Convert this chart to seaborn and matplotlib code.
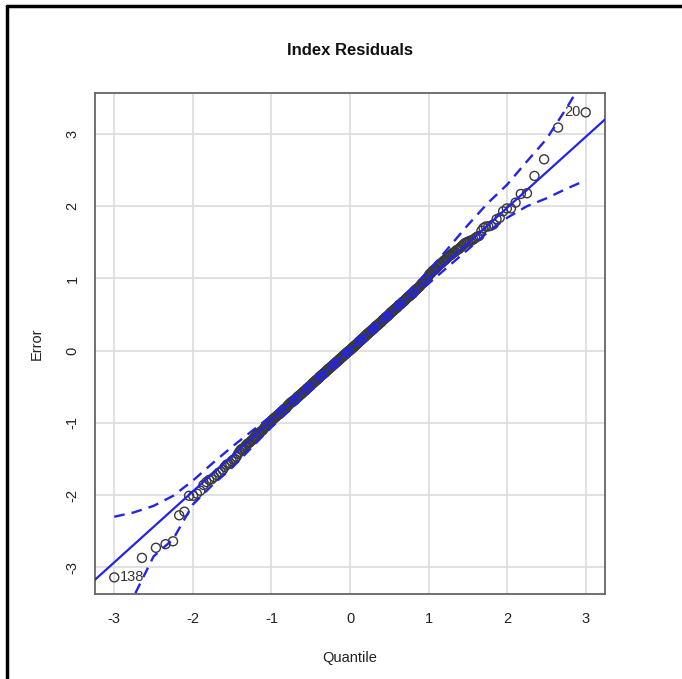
import numpy as np
import pandas as pd
import seaborn as sns
import matplotlib
matplotlib.use("Agg")
import matplotlib.pyplot as plt
from matplotlib.lines import Line2D
from statistics import NormalDist

# ---------------- data ----------------
title = "Index Residuals"
xlabel = "Quantile"
ylabel = "Error"

# sorted residuals (370 observations)
residuals_low = [
    -3.14, -2.87, -2.73, -2.68, -2.64, -2.28, -2.23, -2.01, -2.01, -1.98,
    -1.94, -1.86, -1.82, -1.79, -1.78, -1.75, -1.72, -1.69, -1.68, -1.65,
    -1.61, -1.58, -1.57, -1.56, -1.53, -1.51, -1.50, -1.47, -1.43, -1.40,
    -1.37, -1.36, -1.35, -1.33, -1.31, -1.29, -1.28, -1.27, -1.25, -1.24,
    -1.22, -1.20, -1.19, -1.17, -1.15, -1.14, -1.13, -1.12, -1.11, -1.10,
    -1.08, -1.06, -1.05, -1.04, -1.02, -1.01, -1.00, -0.99, -0.98,
    -0.96, -0.95, -0.94, -0.93, -0.92, -0.91, -0.90, -0.89, -0.88,
    -0.87, -0.86, -0.85, -0.84, -0.83, -0.82, -0.81, -0.80, -0.80, -0.79,
    -0.77, -0.76, -0.75, -0.74, -0.73, -0.72, -0.71, -0.71, -0.70, -0.69, -0.69,
    -0.68, -0.67, -0.66, -0.65, -0.64, -0.63, -0.63, -0.62, -0.61, -0.60, -0.60, -0.59,
    -0.58, -0.57, -0.56, -0.56, -0.55, -0.54, -0.53, -0.52, -0.52, -0.51, -0.50, -0.49, -0.49,
    -0.48, -0.47, -0.46, -0.45, -0.45, -0.44, -0.43, -0.42, -0.42, -0.41, -0.40, -0.40, -0.39,
    -0.38, -0.37, -0.36, -0.36, -0.35, -0.34, -0.34, -0.33, -0.32, -0.32, -0.31, -0.30, -0.30, -0.29,
    -0.28, -0.27, -0.27, -0.26, -0.25, -0.25, -0.24, -0.23, -0.23, -0.22, -0.21, -0.21, -0.20, -0.19, -0.19,
    -0.18, -0.17, -0.17, -0.16, -0.15, -0.15, -0.14, -0.13, -0.13, -0.12, -0.11, -0.11, -0.10, -0.09,
    -0.09, -0.08, -0.07, -0.07, -0.06, -0.05, -0.05, -0.04, -0.03, -0.03, -0.02, -0.01, -0.01, 0.00, 0.00,
]
residuals_high = [
    0.01, 0.02, 0.02, 0.03, 0.04, 0.04, 0.05, 0.06, 0.06, 0.07, 0.08, 0.08, 0.09, 0.10, 0.10,
    0.11, 0.12, 0.13, 0.13, 0.14, 0.15, 0.15, 0.16, 0.17, 0.17, 0.18, 0.19, 0.19, 0.20,
    0.21, 0.22, 0.22, 0.23, 0.24, 0.24, 0.25, 0.26, 0.26, 0.27, 0.28, 0.28, 0.29, 0.30, 0.30,
    0.31, 0.32, 0.33, 0.33, 0.34, 0.35, 0.35, 0.36, 0.37, 0.37, 0.38, 0.39, 0.39, 0.40,
    0.41, 0.42, 0.43, 0.43, 0.44, 0.45, 0.46, 0.46, 0.47, 0.48, 0.48, 0.49, 0.50,
    0.51, 0.52, 0.53, 0.53, 0.54, 0.55, 0.56, 0.56, 0.57, 0.58, 0.59, 0.59, 0.60,
    0.61, 0.62, 0.63, 0.64, 0.64, 0.65, 0.66, 0.67, 0.68, 0.68, 0.69, 0.70,
    0.71, 0.72, 0.73, 0.74, 0.75, 0.75, 0.76, 0.77, 0.78, 0.79, 0.79,
    0.81, 0.82, 0.83, 0.84, 0.85, 0.86, 0.87, 0.88, 0.89, 0.90,
    0.92, 0.93, 0.94, 0.95, 0.96, 0.98, 0.99, 1.00, 1.02,
    1.04, 1.06, 1.07, 1.08, 1.10, 1.11, 1.12, 1.13, 1.14,
    1.16, 1.17, 1.19, 1.20, 1.21, 1.22, 1.24, 1.25, 1.26, 1.28,
    1.29, 1.31, 1.32, 1.33, 1.35, 1.36, 1.37, 1.39, 1.40, 1.41,
    1.43, 1.45, 1.47, 1.49, 1.50, 1.51, 1.52, 1.53, 1.54, 1.56,
    1.58, 1.59, 1.66, 1.70, 1.72, 1.72, 1.73, 1.75, 1.82, 1.84,
    1.93, 1.97, 1.97, 2.05, 2.17, 2.18, 2.42, 2.65, 3.09, 3.30,
]
residuals = residuals_low + residuals_high

# identified observations: (rank in sorted order, label)
id_ranks = [1, 370]
id_labels = ["138", "20"]

# pointwise confidence envelope
env_q = [-3.0, -2.75, -2.5, -2.25, -2.0, -1.75, -1.5, -1.0, -0.5, 0.0,
         0.5, 1.0, 1.5, 1.75, 2.0, 2.25, 2.5, 2.75, 3.0]
env_upper = [-2.30, -2.24, -2.15, -2.01, -1.80, -1.56, -1.33, -0.90, -0.43, 0.06,
             0.56, 1.10, 1.74, 2.04, 2.30, 2.62, 2.93, 3.35, 3.80]
env_lower = [-3.75, -3.40, -2.85, -2.61, -2.13, -1.86, -1.62, -1.06, -0.55, -0.05,
             0.45, 0.93, 1.40, 1.64, 1.84, 2.00, 2.11, 2.24, 2.36]

x_ticks = [-3, -2, -1, 0, 1, 2, 3]
y_ticks = [-3, -2, -1, 0, 1, 2, 3]

# ---------------- build frames ----------------
n = len(residuals)
nd = NormalDist()
quant = [nd.inv_cdf((i - 0.5) / n) for i in range(1, n + 1)]
df = pd.DataFrame({"Quantile": quant, "Error": sorted(residuals)})
env = pd.DataFrame({"q": env_q, "upper": env_upper, "lower": env_lower})

# quartile reference line (as car::qqPlot)
q1y, q3y = np.quantile(df["Error"], [0.25, 0.75])
q1z, q3z = nd.inv_cdf(0.25), nd.inv_cdf(0.75)
slope = (q3y - q1y) / (q3z - q1z)
intercept = q1y - slope * q1z

# ---------------- plot ----------------
sns.set_style("white")
plt.rcParams["font.family"] = ["Liberation Sans", "DejaVu Sans"]

fig = plt.figure(figsize=(6.82, 6.79), dpi=100)
ax = fig.add_axes([0.1393, 0.1252, 0.7478, 0.738])

blue = "#2424e8"
sns.scatterplot(data=df, x="Quantile", y="Error", ax=ax, s=42,
                facecolor="none", edgecolor="#3a3a3a", linewidth=1.0,
                zorder=3)
ax.axline((0, intercept), slope=slope, color=blue, lw=1.6, zorder=4)
sns.lineplot(data=env, x="q", y="upper", ax=ax, color=blue, lw=1.7,
             linestyle=(0, (4.5, 3)), sort=False, zorder=4)
sns.lineplot(data=env, x="q", y="lower", ax=ax, color=blue, lw=1.7,
             linestyle=(0, (4.5, 3)), sort=False, zorder=4)

for r, lab in zip(id_ranks, id_labels):
    px, py = df["Quantile"].iloc[r - 1], df["Error"].iloc[r - 1]
    if px < 0:
        ax.annotate(lab, (px, py), xytext=(4, 0), textcoords="offset points",
                    ha="left", va="center", fontsize=10.5, color="#333333")
    else:
        ax.annotate(lab, (px, py), xytext=(-4, 0), textcoords="offset points",
                    ha="right", va="center", fontsize=10.5, color="#333333")

ax.set_xlim(-3.245, 3.245)
ax.set_ylim(-3.37, 3.57)
ax.set_xticks(x_ticks)
ax.set_yticks(y_ticks)
ax.set_xticklabels([str(t) for t in x_ticks])
ax.set_yticklabels([str(t) for t in y_ticks], rotation=90, va="center")
ax.grid(True, color="#dcdcdc", lw=1.2)
ax.set_axisbelow(True)
for s in ax.spines.values():
    s.set_color("#666666")
    s.set_linewidth(1.3)
ax.tick_params(axis="both", direction="out", length=6, width=1.1,
               color="#666666", labelsize=10.5, labelcolor="#222222", pad=7)
ax.tick_params(axis="y", pad=5)
ax.set_xlabel(xlabel, fontsize=10.5, color="#222222", labelpad=18)
ax.set_ylabel(ylabel, fontsize=10.5, color="#222222", labelpad=16)
ax.set_title(title, fontsize=12, fontweight="bold", color="#111111", pad=27)

# outer frame (top and left edges visible in the reference)
fig.add_artist(Line2D([7 / 682, 1.0], [1 - 6 / 679, 1 - 6 / 679],
                      transform=fig.transFigure, color="black", lw=2.5))
fig.add_artist(Line2D([7 / 682, 7 / 682], [0.0, 1 - 6 / 679],
                      transform=fig.transFigure, color="black", lw=2.5))

fig.savefig("out.png", dpi=100, facecolor="white")
